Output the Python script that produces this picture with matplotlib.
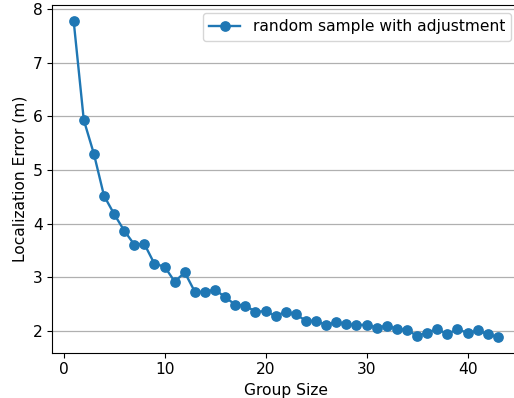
import matplotlib
matplotlib.use('Agg')
import matplotlib.pyplot as plt

# ── Data ───────────────────────────────────────────────────────────────────
group_size = list(range(1, 44))
loc_error = [7.77, 5.93, 5.30, 4.52, 4.18, 3.87, 3.61, 3.62, 3.25, 3.20,
             2.92, 3.09, 2.73, 2.73, 2.77, 2.63, 2.49, 2.47, 2.36, 2.37,
             2.28, 2.36, 2.31, 2.19, 2.19, 2.11, 2.17, 2.13, 2.11, 2.12,
             2.06, 2.10, 2.04, 2.02, 1.91, 1.97, 2.04, 1.94, 2.04, 1.96,
             2.01, 1.94, 1.89]
series_label = 'random sample with adjustment'

plt.rcParams['font.size'] = 11.2

fig = plt.figure(figsize=(5.14, 3.98), dpi=100)
# axes run slightly past the right edge of the canvas, as in the reference crop
ax = fig.add_axes([0.1021, 0.1138, 0.9078, 0.8726])

ax.plot(group_size, loc_error, marker='o', color='#1f77b4', label=series_label,
        linewidth=1.7, markersize=6.7)
ax.set_xlabel('Group Size')
ax.set_ylabel('Localization Error (m)')
ax.grid(axis='y', color='#b0b0b0', linewidth=0.9)
ax.set_axisbelow(True)
ax.legend(loc='upper right')

plt.savefig('out.png', dpi=100)
